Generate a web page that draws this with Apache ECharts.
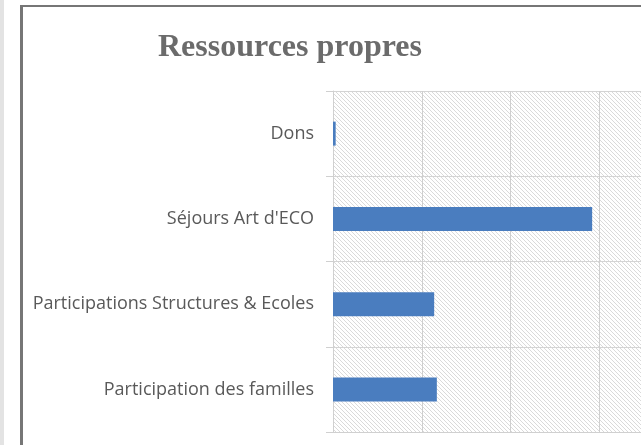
<!DOCTYPE html>
<html><head><meta charset="utf-8">
<script src="https://cdn.jsdelivr.net/npm/echarts@6/dist/echarts.min.js"></script>
<style>html,body{margin:0;padding:0;overflow:hidden;background:#fff;width:641px;height:445px}#c{width:690px;height:445px}</style>
</head><body><div id="c"></div>
<script>
const categories = ["Dons", "Séjours Art d'ECO", "Participations Structures & Ecoles", "Participation des familles"];
const values = [300, 29200, 11400, 11700];
const titleText = "Ressources propres";

const pc = document.createElement('canvas');
pc.width = 4; pc.height = 4;
const g = pc.getContext('2d');
g.fillStyle = '#ffffff'; g.fillRect(0,0,4,4);
g.strokeStyle = '#dadada'; g.lineWidth = 1;
g.beginPath(); g.moveTo(-1,-1); g.lineTo(5,5); g.moveTo(-1,3); g.lineTo(1,5); g.moveTo(3,-1); g.lineTo(5,1); g.stroke();

const chart = echarts.init(document.getElementById('c'), null, {renderer:'canvas'});
chart.setOption({
  animation:false,
  title:{text:titleText, left:153, top:27, textStyle:{fontFamily:'Liberation Serif', fontWeight:'bold', fontSize:32, color:'#6b6b6b'}},
  graphic:[
    {type:'rect', shape:{x:0,y:0,width:4,height:445}, style:{fill:'#e3e3e3'}},
    {type:'rect', shape:{x:20,y:5,width:3,height:440}, style:{fill:'#767676'}},
    {type:'rect', shape:{x:20,y:5,width:700,height:2}, style:{fill:'#767676'}}
  ],
  grid:{left:333, right:2, top:91, bottom:13, show:true, borderWidth:0, backgroundColor:{image:pc, repeat:'repeat'}},
  xAxis:{type:'value', min:0, max:40000, interval:10000, axisLabel:{show:false}, axisTick:{show:false},
    axisLine:{show:true, lineStyle:{color:'#d0d0d0'}}, splitLine:{show:true, lineStyle:{color:'#cfcfcf', width:1}}},
  yAxis:{type:'category', data:categories, inverse:true,
    axisLine:{show:true, lineStyle:{color:'#d0d0d0'}},
    axisTick:{show:true, length:7, lineStyle:{color:'#d0d0d0'}},
    splitLine:{show:true, lineStyle:{color:'#d4d4d4'}},
    axisLabel:{margin:19, fontFamily:'Open Sans', fontSize:18, color:'#595959'}},
  series:[{type:'bar', data:values, barWidth:24, itemStyle:{color:'#4a7dbf'}}]
});
</script></body></html>
